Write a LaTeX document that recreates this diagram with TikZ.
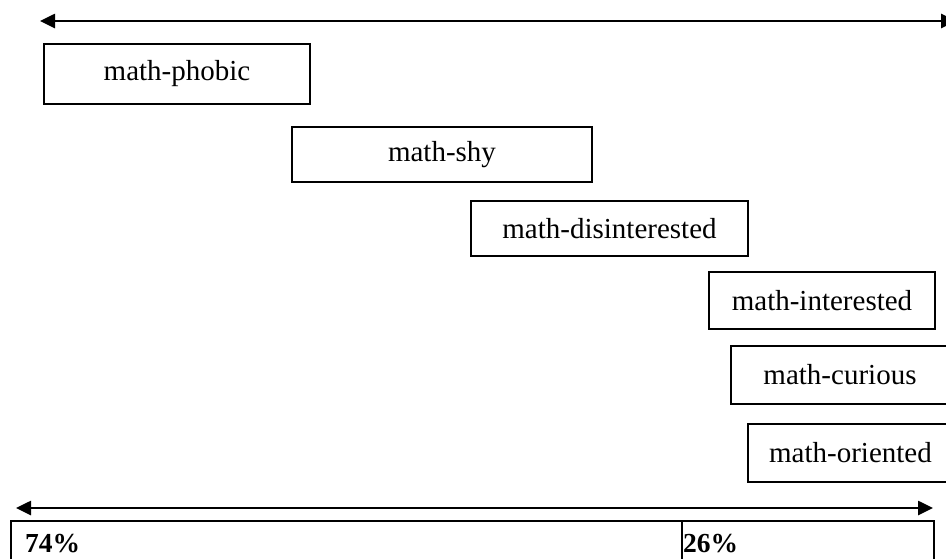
\documentclass[tikz,border=0pt]{standalone}
\usepackage{fontspec}
\setmainfont{Liberation Serif}
\usetikzlibrary{arrows.meta}
\begin{document}
\begin{tikzpicture}[x=1pt,y=-1pt,
  catbox/.style={draw=black,line width=1.8pt,inner sep=0pt,
    font=\fontsize{29}{31}\selectfont},
  pct/.style={inner sep=0pt,anchor=base west,font=\fontsize{27.5}{30}\selectfont\bfseries},
  spanarrow/.style={line width=2.6pt,{Triangle[length=15pt,width=14pt]}-{Triangle[length=15pt,width=14pt]}}]
\useasboundingbox (0,0) rectangle (946,558);
\clip (0,0) rectangle (946,558);
% top arrow
\coordinate (tl) at (40,21);
\coordinate (tr) at (956,21);
\draw[spanarrow] (tl) -- (tr);
% category boxes
\node[catbox,minimum width=266pt,minimum height=60pt] (phobic) at (177,74) {math-phobic};
\node[catbox,minimum width=300pt,minimum height=55pt] (shy) at (442,154.5) {math-shy};
\node[catbox,minimum width=277pt,minimum height=55pt] (disint) at (609.5,228.5) {math-disinterested};
\node[catbox,minimum width=226pt,minimum height=57pt] (inter) at (822,300.5) {math-interested};
\node[catbox,minimum width=218pt,minimum height=58pt] (curious) at (840,375) {math-curious};
\node[catbox,minimum width=205pt,minimum height=58pt] (orient) at (850.5,453) {math-oriented};
% bottom arrow
\coordinate (bl) at (16,508);
\coordinate (br) at (933,508);
\draw[spanarrow] (bl) -- (br);
% bottom bar
\draw[line width=1.8pt] (11,575) -- (11,521) -- (934,521) -- (934,575);
\draw[line width=1.8pt] (682,521) -- (682,575);
\node[pct] (p74) at (25,552) {74\%};
\node[pct] (p26) at (683,552) {26\%};
\end{tikzpicture}
\end{document}
